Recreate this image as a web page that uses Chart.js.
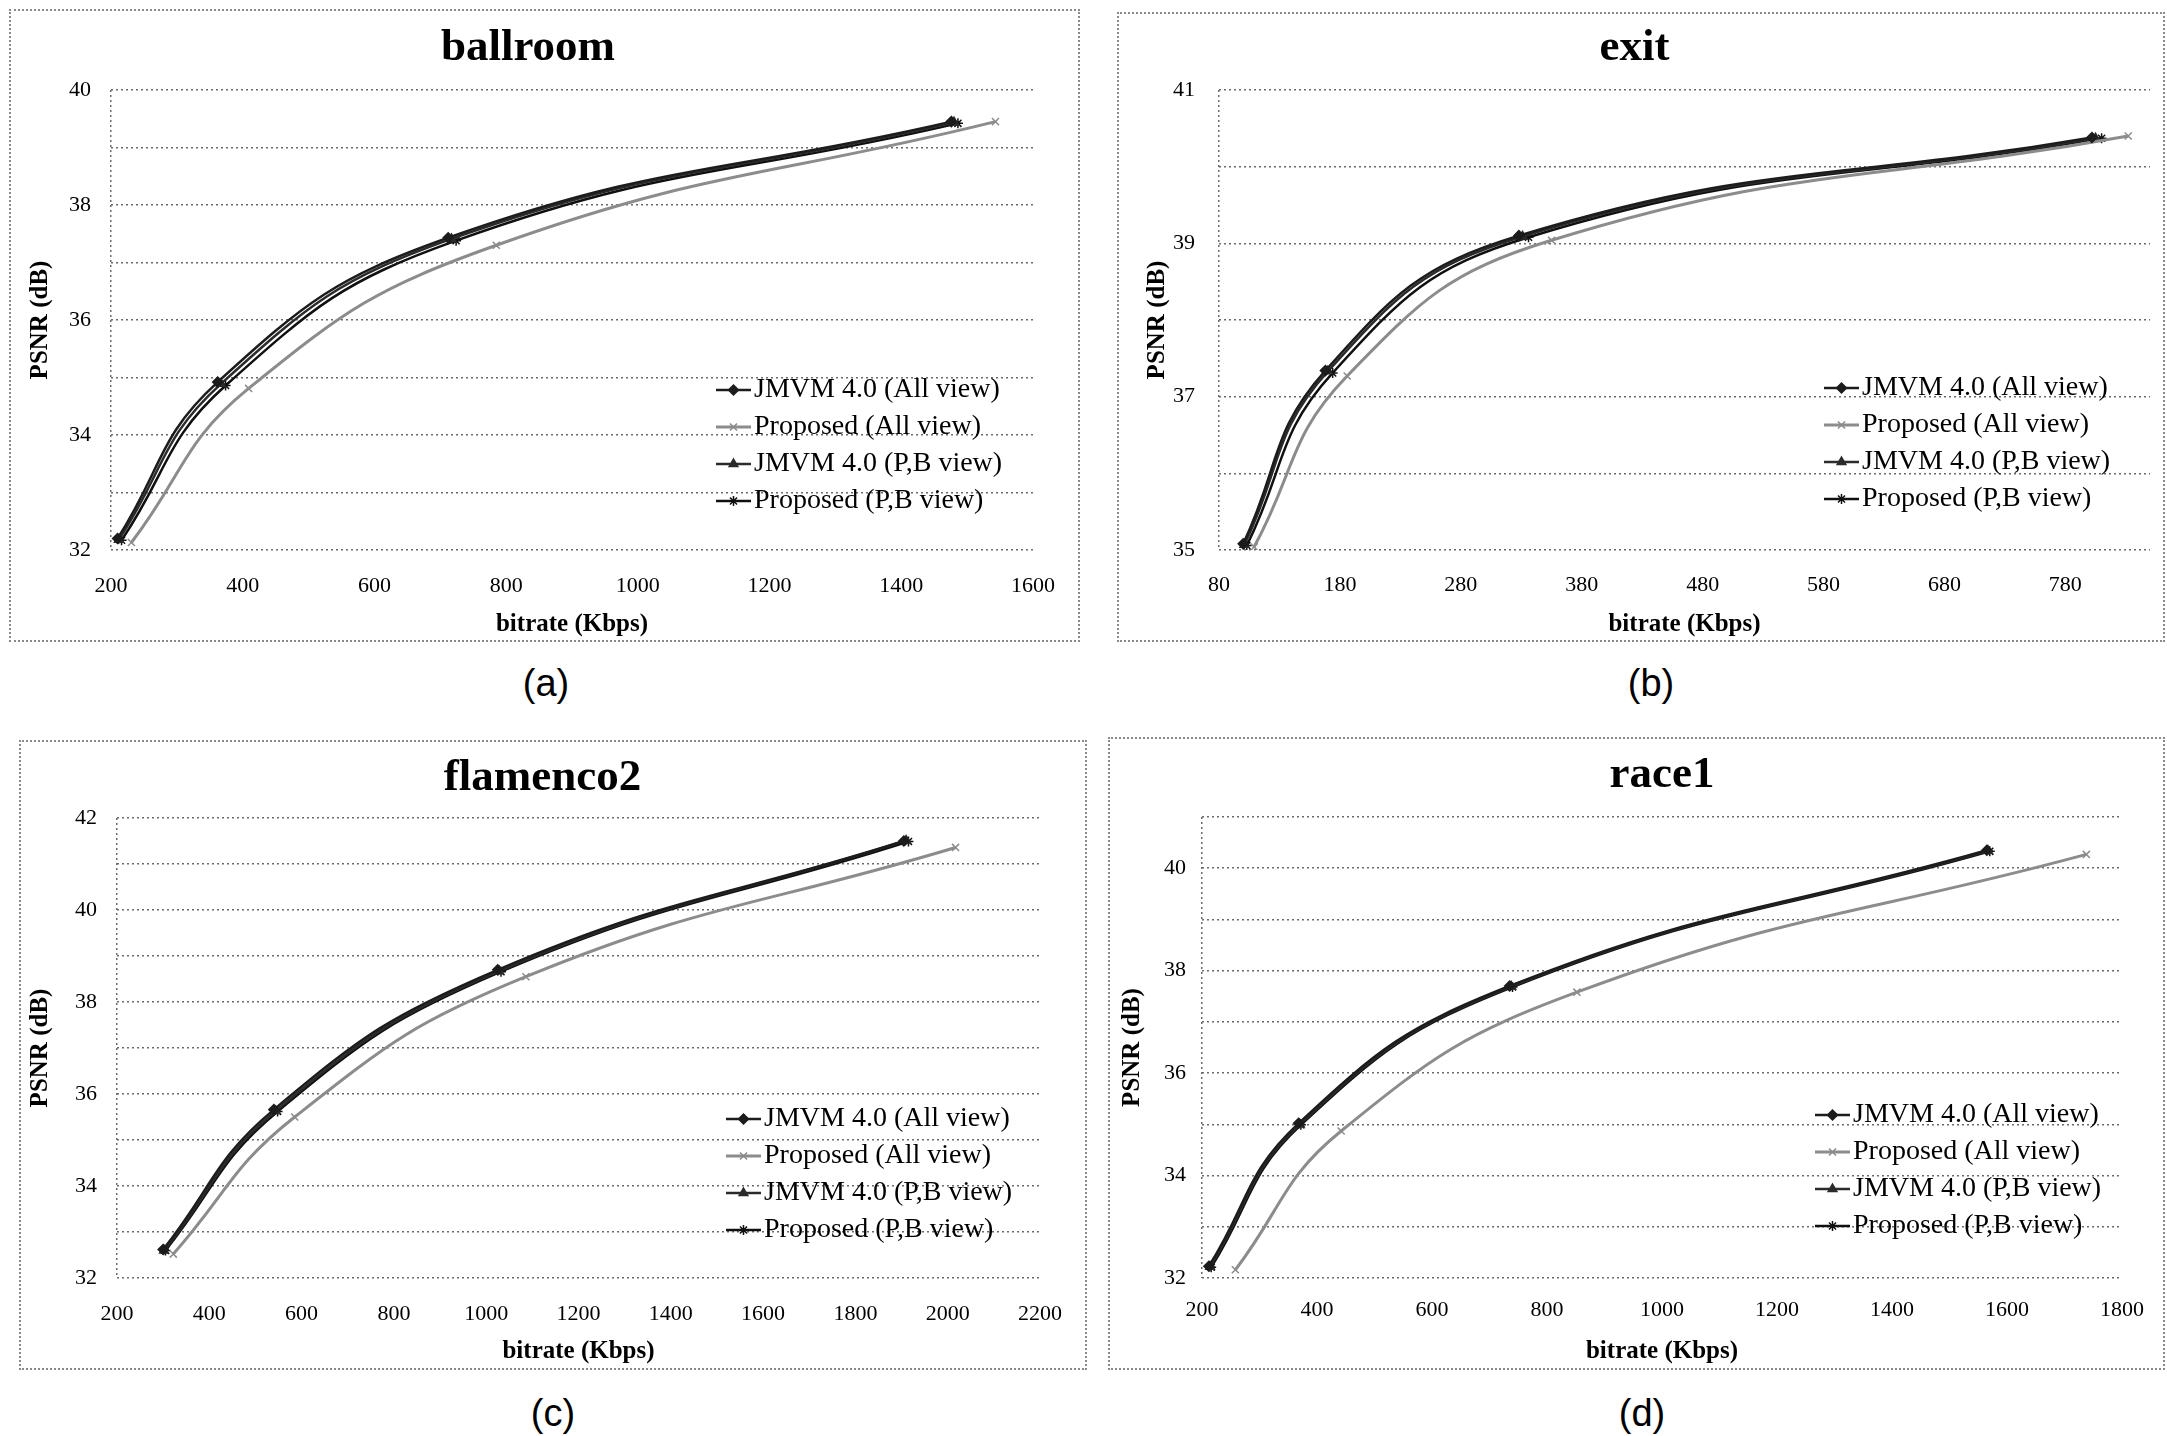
<!DOCTYPE html>
<html>
<head>
<meta charset="utf-8">
<script src="https://cdn.jsdelivr.net/npm/chart.js@4.4.1/dist/chart.umd.min.js"></script>
<style>
  html, body { margin: 0; padding: 0; background: #fff; }
  body { position: relative; width: 2167px; height: 1436px; overflow: hidden; }
  canvas { position: absolute; outline: 2px dotted #8a8a8a; background: #fff; }
  .cap { position: absolute; transform: translate(-50%, -50%); font-family: "Liberation Sans Narrow", "Liberation Sans", Arial, sans-serif; font-size: 38px; color: #000; }
</style>
</head>
<body>
<canvas id="cA" width="1067" height="629" style="left:11px;top:11px"></canvas>
<canvas id="cB" width="1044" height="626" style="left:1119px;top:14px"></canvas>
<canvas id="cC" width="1064" height="626" style="left:21px;top:742px"></canvas>
<canvas id="cD" width="1053" height="629" style="left:1110px;top:739px"></canvas>
<div class="cap" style="left:546px;top:683px">(a)</div>
<div class="cap" style="left:1651px;top:683px">(b)</div>
<div class="cap" style="left:553px;top:1413px">(c)</div>
<div class="cap" style="left:1642px;top:1413px">(d)</div>
<script>
const SERIES_LABELS = ['JMVM 4.0 (All view)', 'Proposed (All view)', 'JMVM 4.0 (P,B view)', 'Proposed (P,B view)'];

// ballroom  [bitrate kbps, PSNR dB]
const BALLROOM_JMVM_ALL = [[210, 32.20], [362, 34.92], [712, 37.43], [1476, 39.45]];
const BALLROOM_PROP_ALL = [[231, 32.13], [409, 34.81], [785, 37.30], [1543, 39.45]];
const BALLROOM_JMVM_PB  = [[212, 32.18], [367, 34.89], [717, 37.41], [1480, 39.44]];
const BALLROOM_PROP_PB  = [[216, 32.17], [374, 34.86], [724, 37.38], [1486, 39.42]];
const BALLROOM_X_TICKS  = [200, 400, 600, 800, 1000, 1200, 1400, 1600];
const BALLROOM_Y_LABELS = [32, 34, 36, 38, 40];

// exit
const EXIT_JMVM_ALL = [[100, 35.08], [168, 37.34], [328, 39.10], [802, 40.38]];
const EXIT_PROP_ALL = [[109, 35.04], [186, 37.27], [355, 39.04], [832, 40.40]];
const EXIT_JMVM_PB  = [[101, 35.07], [170, 37.33], [331, 39.09], [805, 40.37]];
const EXIT_PROP_PB  = [[103, 35.06], [174, 37.31], [336, 39.08], [810, 40.37]];
const EXIT_X_TICKS  = [80, 180, 280, 380, 480, 580, 680, 780];
const EXIT_Y_LABELS = [35, 37, 39, 41];

// flamenco2
const FLAMENCO_JMVM_ALL = [[300, 32.62], [540, 35.66], [1025, 38.70], [1905, 41.50]];
const FLAMENCO_PROP_ALL = [[322, 32.52], [585, 35.50], [1086, 38.55], [2017, 41.36]];
const FLAMENCO_JMVM_PB  = [[302, 32.60], [544, 35.63], [1028, 38.67], [1910, 41.51]];
const FLAMENCO_PROP_PB  = [[305, 32.60], [548, 35.62], [1032, 38.66], [1915, 41.49]];
const FLAMENCO_X_TICKS  = [200, 400, 600, 800, 1000, 1200, 1400, 1600, 1800, 2000, 2200];
const FLAMENCO_Y_LABELS = [32, 34, 36, 38, 40, 42];

// race1
const RACE_JMVM_ALL = [[212, 32.23], [368, 35.02], [735, 37.70], [1565, 40.35]];
const RACE_PROP_ALL = [[258, 32.16], [442, 34.87], [852, 37.58], [1738, 40.27]];
const RACE_JMVM_PB  = [[214, 32.22], [370, 35.00], [738, 37.69], [1567, 40.34]];
const RACE_PROP_PB  = [[216, 32.21], [372, 34.99], [740, 37.68], [1570, 40.33]];
const RACE_X_TICKS  = [200, 400, 600, 800, 1000, 1200, 1400, 1600, 1800];
const RACE_Y_LABELS = [32, 34, 36, 38, 40];

const SERIF = '"Liberation Serif", "Times New Roman", serif';
const STYLES = [
  { color: '#1c1c1c', width: 2.5, point: 'rectRot',  r: 5 },
  { color: '#8c8c8c', width: 3,   point: 'crossRot', r: 5 },
  { color: '#2b2b2b', width: 2.5, point: 'triangle', r: 5 },
  { color: '#101010', width: 2.5, point: 'star',     r: 5 },
];

// legend drawn inside the plot area, lower right
const insideLegend = {
  id: 'insideLegend',
  afterDraw(chart, args, opts) {
    const ctx = chart.ctx;
    ctx.save();
    ctx.font = '28px ' + SERIF;
    ctx.textBaseline = 'middle';
    chart.data.datasets.forEach((ds, i) => {
      const y = opts.y + i * opts.step;
      ctx.setLineDash([]);
      ctx.strokeStyle = ds.borderColor;
      ctx.fillStyle = ds.borderColor;
      ctx.lineWidth = ds.borderWidth;
      ctx.beginPath(); ctx.moveTo(opts.x, y); ctx.lineTo(opts.x + 35, y); ctx.stroke();
      ctx.lineWidth = 1.5;
      Chart.helpers.drawPoint(ctx, { pointStyle: ds.pointStyle, radius: ds.pointRadius, borderWidth: 1.5, rotation: 0 }, opts.x + 17.5, y);
      ctx.fillStyle = '#000';
      ctx.fillText(ds.label, opts.x + 38, y);
    });
    ctx.restore();
  }
};

const PANELS = [
  { id: 'cA', title: 'ballroom', w: 1067, h: 629, area: [100, 79, 1034, 539], titleY: 37, titleFull: true,
    xMin: 200, xMax: 1600, xTicks: BALLROOM_X_TICKS, yMin: 32, yMax: 40, yLabels: BALLROOM_Y_LABELS,
    yTickPad: 20, xTickPad: 23, yTitleX: 30, xTitleY: 614, legend: { x: 705, y: 379, step: 37 },
    series: [BALLROOM_JMVM_ALL, BALLROOM_PROP_ALL, BALLROOM_JMVM_PB, BALLROOM_PROP_PB] },
  { id: 'cB', title: 'exit', w: 1044, h: 626, area: [100, 76, 1031, 536], titleY: 34, titleFull: true,
    xMin: 80, xMax: 850, xTicks: EXIT_X_TICKS, yMin: 35, yMax: 41, yLabels: EXIT_Y_LABELS,
    yTickPad: 24, xTickPad: 22, yTitleX: 39, xTitleY: 611, legend: { x: 705, y: 374, step: 37 },
    series: [EXIT_JMVM_ALL, EXIT_PROP_ALL, EXIT_JMVM_PB, EXIT_PROP_PB] },
  { id: 'cC', title: 'flamenco2', w: 1064, h: 626, area: [96, 76, 1043, 536], titleY: 36, titleFull: true,
    xMin: 200, xMax: 2200, xTicks: FLAMENCO_X_TICKS, yMin: 32, yMax: 42, yLabels: FLAMENCO_Y_LABELS,
    yTickPad: 20, xTickPad: 23, yTitleX: 20, xTitleY: 610, legend: { x: 705, y: 377, step: 37 },
    series: [FLAMENCO_JMVM_ALL, FLAMENCO_PROP_ALL, FLAMENCO_JMVM_PB, FLAMENCO_PROP_PB] },
  { id: 'cD', title: 'race1', w: 1053, h: 629, area: [92, 78, 1022, 539], titleY: 36, titleFull: false,
    xMin: 200, xMax: 1800, xTicks: RACE_X_TICKS, yMin: 32, yMax: 41, yLabels: RACE_Y_LABELS,
    yTickPad: 16, xTickPad: 19, yTitleX: 23, xTitleY: 613, legend: { x: 705, y: 376, step: 37 },
    series: [RACE_JMVM_ALL, RACE_PROP_ALL, RACE_JMVM_PB, RACE_PROP_PB] },
];

function makeChart(p) {
  const tickFont = { family: SERIF, size: 22 };
  const axisFont = { family: SERIF, size: 25, weight: 'bold' };
  const axisLh = 25 * 1.2;
  const titleLh = 45 * 1.2;
  const gridColor = '#6b6b6b';

  const datasets = p.series.map((pts, i) => ({
    label: SERIES_LABELS[i],
    data: pts.map(([x, y]) => ({ x, y })),
    borderColor: STYLES[i].color,
    backgroundColor: STYLES[i].color,
    borderWidth: STYLES[i].width,
    pointStyle: STYLES[i].point,
    pointRadius: STYLES[i].r,
    pointBorderWidth: 1.5,
    tension: 0.45,
    fill: false
  }));

  return new Chart(document.getElementById(p.id), {
    type: 'line',
    data: { datasets },
    plugins: [insideLegend],
    options: {
      responsive: false,
      animation: false,
      layout: { padding: { left: 0, top: 0, bottom: 0, right: p.w - p.area[2] } },
      plugins: {
        legend: { display: false },
        tooltip: { enabled: false },
        title: {
          display: true, text: p.title, color: '#000', fullSize: p.titleFull,
          font: { family: SERIF, size: 45, weight: 'bold' },
          padding: { top: p.titleY - titleLh / 2, bottom: p.area[1] - p.titleY - titleLh / 2 }
        },
        insideLegend: p.legend
      },
      scales: {
        x: {
          type: 'linear', min: p.xMin, max: p.xMax,
          afterBuildTicks: s => { s.ticks = p.xTicks.map(v => ({ value: v })); },
          ticks: { color: '#000', font: tickFont, padding: p.xTickPad, autoSkip: false, maxRotation: 0,
                   callback: v => String(v) },
          grid: { drawTicks: false, lineWidth: 1.5,
                  color: c => (c.tick && c.tick.value === p.xMin) ? gridColor : 'rgba(0,0,0,0)' },
          border: { display: false, dash: [2, 3] },
          title: { display: true, text: 'bitrate (Kbps)', color: '#000', font: axisFont,
                   padding: { top: 0, bottom: (p.h - p.xTitleY) - axisLh / 2 } },
          afterFit: s => { s.height = p.h - p.area[3]; }
        },
        y: {
          type: 'linear', min: p.yMin, max: p.yMax,
          ticks: { stepSize: 1, color: '#000', font: tickFont, padding: p.yTickPad,
                   callback: v => p.yLabels.includes(v) ? String(v) : '' },
          grid: { color: gridColor, lineWidth: 1.5, drawTicks: false },
          border: { display: false, dash: [2, 3] },
          title: { display: true, text: 'PSNR (dB)', color: '#000', font: axisFont,
                   padding: { top: p.yTitleX - axisLh / 2, bottom: 0 } },
          afterFit: s => { s.width = p.area[0]; }
        }
      }
    }
  });
}

PANELS.forEach(makeChart);
</script>
</body>
</html>
